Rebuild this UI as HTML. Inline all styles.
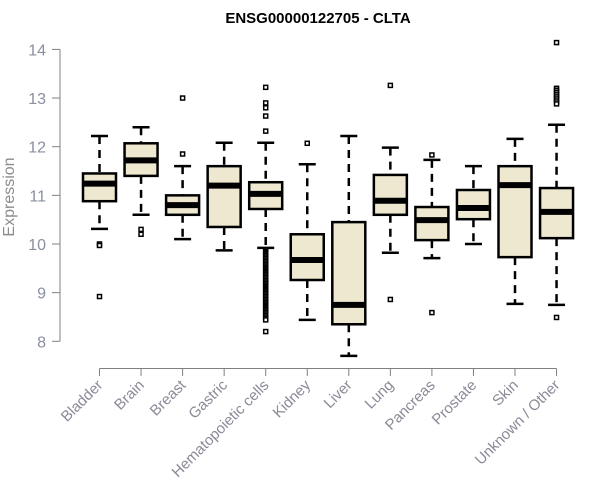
<!DOCTYPE html>
<html><head><meta charset="utf-8"><style>
body{margin:0;background:#fff;}
svg{display:block;font-family:"Liberation Sans",Arial,sans-serif;}
</style></head><body>
<svg id="chart" width="600" height="500">
<text x="318" y="23" text-anchor="middle" font-weight="bold" font-size="15">ENSG00000122705 - CLTA</text>
<text transform="translate(14,197) rotate(-90)" text-anchor="middle" font-size="16" fill="#8c8c8c">Expression</text>
<g id="g"></g>
</svg>
<script>
const categories=["Bladder","Brain","Breast","Gastric","Hematopoietic cells","Kidney","Liver","Lung","Pancreas","Prostate","Skin","Unknown / Other"];
const whiskerLow=[10.31,10.6,10.1,9.87,9.92,8.44,7.7,9.82,9.71,10.0,8.77,8.75];
const q1=[10.88,11.4,10.6,10.35,10.72,9.26,8.35,10.6,10.08,10.51,9.73,10.12];
const medians=[11.24,11.72,10.8,11.2,11.03,9.67,8.75,10.89,10.49,10.74,11.21,10.66];
const q3=[11.45,12.07,11.0,11.6,11.27,10.2,10.45,11.42,10.76,11.11,11.6,11.15];
const whiskerHigh=[12.22,12.4,11.6,12.08,12.08,11.64,12.22,11.98,11.73,11.6,12.16,12.45];
const outliers=[[10.0,9.97,8.92],[10.3,10.2],[13.0,11.85],[],
[13.22,12.9,12.8,12.63,12.32,9.88,9.85,9.82,9.79,9.76,9.73,9.7,9.67,9.64,9.61,9.58,9.55,9.52,9.49,9.46,9.43,9.4,9.37,9.34,9.31,9.28,9.25,9.22,9.19,9.16,9.13,9.1,9.07,9.04,9.01,8.98,8.95,8.92,8.89,8.86,8.83,8.8,8.77,8.74,8.71,8.68,8.65,8.62,8.59,8.56,8.53,8.5,8.47,8.44,8.2],
[12.07],[],[13.26,8.86],[11.83,8.59],[],[],[14.14,13.2,13.16,13.12,13.08,13.04,13.0,12.96,12.92,12.88,8.49]];
const yTicks=[8,9,10,11,12,13,14];

const ns="http://www.w3.org/2000/svg";
const g=document.getElementById('g');
const Y=v=>341.3-(v-8)*48.65;
const X=i=>99.5+i*41.55;
function mk(t,a,p){const e=document.createElementNS(ns,t);for(const k in a)e.setAttribute(k,a[k]);(p||g).appendChild(e);return e;}
let ya=mk('line',{x1:60,x2:60,y1:Y(8),y2:Y(14),stroke:'#808080','stroke-width':1});


yTicks.forEach(v=>{
 const t=mk('line',{x1:52,x2:60,y1:Y(v),y2:Y(v),stroke:'#808080'});
 
 
 const l=mk('text',{x:46,y:Y(v)+6,'text-anchor':'end','font-size':16,fill:'#8a8fa0'});
 l.textContent=v;
 
 
});
let xa=mk('line',{x1:X(0),x2:X(11),y1:368.5,y2:368.5,stroke:'#808080'});


categories.forEach((c,i)=>{
 const x=X(i);
 const t=mk('line',{x1:x,x2:x,y1:368.5,y2:376,stroke:'#808080'});
 
 
 const l=mk('text',{x:x+4,y:386,'text-anchor':'end','font-size':15,fill:'#8a8a98',transform:`rotate(-45 ${x+4} 386)`});
 l.textContent=c;
 
 
 const bg=mk('g',{});
 
 
 mk('line',{x1:x,x2:x,y1:Y(whiskerHigh[i]),y2:Y(q3[i]),stroke:'#000','stroke-width':2.5,'stroke-dasharray':'8,6'},bg);
 mk('line',{x1:x,x2:x,y1:Y(q1[i]),y2:Y(whiskerLow[i]),stroke:'#000','stroke-width':2.5,'stroke-dasharray':'8,6'},bg);
 mk('line',{x1:x-8.5,x2:x+8.5,y1:Y(whiskerHigh[i]),y2:Y(whiskerHigh[i]),stroke:'#000','stroke-width':2.5},bg);
 mk('line',{x1:x-8.5,x2:x+8.5,y1:Y(whiskerLow[i]),y2:Y(whiskerLow[i]),stroke:'#000','stroke-width':2.5},bg);
 mk('rect',{x:x-16.5,y:Y(q3[i]),width:33,height:Y(q1[i])-Y(q3[i]),fill:'#ede8cf',stroke:'#000','stroke-width':2.5},bg);
 mk('line',{x1:x-16.5,x2:x+16.5,y1:Y(medians[i]),y2:Y(medians[i]),stroke:'#000','stroke-width':6},bg);
 outliers[i].forEach(v=>{
  const o=mk('rect',{x:x-2,y:Y(v)-2,width:4,height:4,fill:'#fff',stroke:'#000','stroke-width':1.5},bg);
  
  
 });
});
</script>
</body></html>
